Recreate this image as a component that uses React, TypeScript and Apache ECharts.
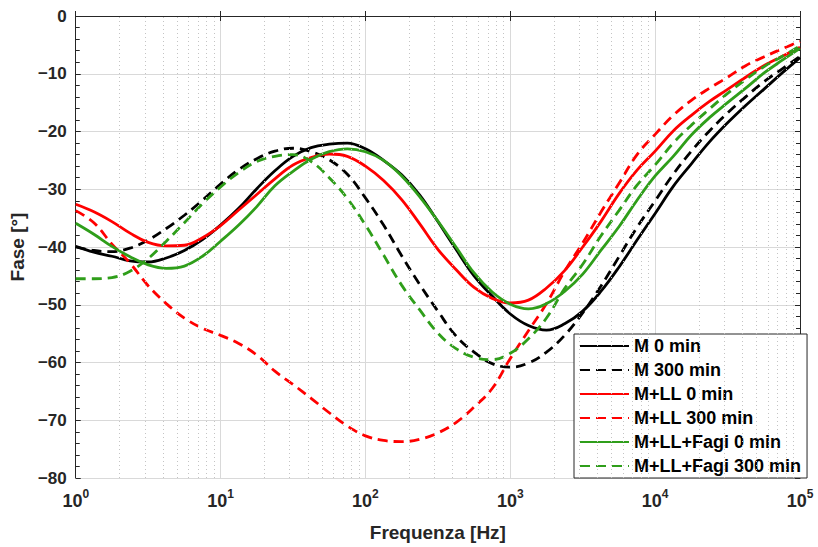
import React, { useEffect, useRef } from 'react';
import * as echarts from 'echarts';

// Frequencies (Hz), 8 points per decade
const freqs = [
  1, 1.334, 1.778, 2.371, 3.162, 4.217, 5.623, 7.499,
  10, 13.34, 17.78, 23.71, 31.62, 42.17, 56.23, 74.99,
  100, 133.4, 177.8, 237.1, 316.2, 421.7, 562.3, 749.9,
  1000, 1334, 1778, 2371, 3162, 4217, 5623, 7499,
  10000, 13335, 17783, 23714, 31623, 42170, 56234, 74989, 100000,
];

// Phase values (degrees)
const mZero = [
  -39.9, -40.9, -41.6, -42.4, -42.6, -41.9, -40.6, -38.7,
  -36.2, -33.3, -29.9, -26.8, -24.3, -22.8, -22.2, -22.0,
  -23.0, -25.0, -27.5, -31.0, -35.6, -40.4, -45.0, -48.5,
  -51.6, -53.6, -54.4, -53.3, -51.1, -47.7, -43.5, -38.8,
  -34.2, -29.5, -25.6, -21.8, -18.5, -15.5, -12.7, -9.9, -7.2,
];
const mThree = [
  -40.0, -40.6, -40.8, -40.2, -38.8, -36.8, -34.5, -31.9,
  -29.1, -26.6, -24.7, -23.4, -22.9, -23.5, -24.9, -27.4,
  -31.5, -36.2, -41.5, -46.5, -51.1, -55.4, -58.2, -60.2,
  -60.8, -60.1, -58.2, -55.3, -51.4, -46.8, -41.7, -36.6,
  -32.0, -27.4, -23.4, -19.9, -16.8, -14.0, -11.4, -9.2, -7.0,
];
const llZero = [
  -32.6, -33.9, -35.6, -37.6, -39.2, -39.8, -39.7, -38.4,
  -36.3, -33.6, -30.9, -28.2, -25.8, -24.5, -23.9, -24.3,
  -26.0, -28.5, -31.8, -36.0, -40.4, -43.9, -47.0, -48.9,
  -49.7, -49.2, -47.1, -44.1, -40.0, -35.6, -30.8, -26.7,
  -23.4, -19.9, -17.2, -14.8, -12.7, -10.6, -8.6, -7.0, -5.4,
];
const llThree = [
  -33.7, -35.8, -39.5, -42.8, -46.7, -49.8, -52.3, -54.1,
  -55.3, -56.7, -58.7, -61.5, -63.8, -66.2, -68.7, -71.0,
  -72.7, -73.5, -73.7, -73.3, -72.2, -70.4, -67.7, -64.5,
  -59.3, -54.5, -49.8, -44.2, -39.3, -34.0, -29.0, -24.0,
  -20.5, -17.2, -14.6, -12.5, -10.6, -8.6, -7.1, -5.7, -4.4,
];
const fZero = [
  -35.9, -37.8, -39.9, -41.7, -43.1, -43.7, -43.3, -41.6,
  -39.0, -36.2, -33.0, -29.4, -26.9, -24.8, -23.5, -23.0,
  -23.5, -25.0, -27.7, -31.3, -35.5, -40.0, -44.5, -47.8,
  -49.9, -50.7, -49.8, -47.7, -44.7, -40.6, -36.5, -31.9,
  -27.7, -24.3, -20.6, -17.6, -15.0, -12.5, -9.9, -7.7, -5.6,
];
const fThree = [
  -45.5, -45.5, -45.3, -44.2, -42.0, -39.0, -35.8, -32.5,
  -29.6, -27.1, -25.2, -24.3, -24.0, -25.2, -28.0, -31.6,
  -36.2, -41.4, -46.6, -50.9, -54.9, -57.6, -59.1, -59.5,
  -58.4, -55.9, -52.3, -47.2, -43.0, -38.1, -33.7, -29.3,
  -25.8, -22.0, -18.9, -16.1, -13.4, -11.0, -8.8, -7.0, -5.2,
];

const seriesNames = [
  'M 0 min', 'M 300 min', 'M+LL 0 min', 'M+LL 300 min', 'M+LL+Fagi 0 min', 'M+LL+Fagi 300 min',
];
const seriesValues = [mZero, mThree, llZero, llThree, fZero, fThree];
const seriesColors = ['#000000', '#000000', '#ff0000', '#ff0000', '#2f9e1a', '#2f9e1a'];
const seriesDashed = [false, true, false, true, false, true];

const minorGridFreqs = [
  2, 3, 4, 5, 6, 7, 8, 9,
  20, 30, 40, 50, 60, 70, 80, 90,
  200, 300, 400, 500, 600, 700, 800, 900,
  2000, 3000, 4000, 5000, 6000, 7000, 8000, 9000,
  20000, 30000, 40000, 50000, 60000, 70000, 80000, 90000,
];

const FONT = '"Liberation Sans", Arial, Helvetica, sans-serif';
const AX = '#262626';

export default function App() {
  const ref = useRef<HTMLDivElement>(null);
  useEffect(() => {
    if (!ref.current) return;
    const chart = echarts.init(ref.current, undefined, { renderer: 'svg' });
    const lineSeries = seriesNames.map((name, k) => ({
      name,
      type: 'line',
      data: freqs.map((f, i) => [f, seriesValues[k][i]]),
      symbol: 'none',
      smooth: 0.4,
      z: 3,
      lineStyle: {
        color: seriesColors[k],
        width: 2.8,
        type: seriesDashed[k] ? [10, 6] : 'solid',
      },
      itemStyle: { color: seriesColors[k] },
    }));
    const option: any = {
      animation: false,
      backgroundColor: '#ffffff',
      grid: { left: 73, right: 18, top: 16, bottom: 66, containLabel: false },
      legend: {
        data: seriesNames,
        orient: 'vertical',
        left: 574,
        top: 334,
        itemWidth: 49,
        itemHeight: 18,
        itemGap: 6,
        padding: [3, 6, 3, 5],
        backgroundColor: '#ffffff',
        borderColor: AX,
        borderWidth: 1,
        borderRadius: 0,
        itemStyle: { opacity: 0 },
        textStyle: { fontSize: 18, fontWeight: 'bold', color: '#000', fontFamily: FONT, lineHeight: 18 },
      },
      xAxis: [
        {
          type: 'log',
          logBase: 10,
          min: 1,
          max: 100000,
          position: 'bottom',
          axisLine: { show: true, lineStyle: { color: AX, width: 1 } },
          axisTick: { show: true, inside: true, length: 5, lineStyle: { color: AX } },
          axisLabel: {
            margin: 10,
            formatter: (v: number) => `{b|10}{s|${Math.round(Math.log10(v))}}`,
            rich: {
              b: { fontSize: 18, fontWeight: 'bold', color: AX, fontFamily: FONT, lineHeight: 26 },
              s: { fontSize: 12, fontWeight: 'bold', color: AX, fontFamily: FONT, lineHeight: 14, verticalAlign: 'top' },
            },
          },
          splitLine: { show: true, lineStyle: { color: '#d9d9d9', width: 1 } },
          name: 'Frequenza [Hz]',
          nameLocation: 'middle',
          nameGap: 45,
          nameTextStyle: { fontSize: 19, fontWeight: 'bold', color: AX, fontFamily: FONT },
        },
        {
          type: 'log',
          logBase: 10,
          min: 1,
          max: 100000,
          position: 'top',
          axisLine: { show: true, lineStyle: { color: AX, width: 1 } },
          axisTick: { show: true, inside: true, length: 5, lineStyle: { color: AX } },
          axisLabel: { show: false },
          splitLine: { show: false },
        },
      ],
      yAxis: [
        {
          type: 'value',
          min: -80,
          max: 0,
          interval: 10,
          position: 'left',
          axisLine: { show: true, lineStyle: { color: AX, width: 1 } },
          axisTick: { show: true, inside: true, length: 5, lineStyle: { color: AX } },
          minorTick: { show: true, splitNumber: 5, length: 4, lineStyle: { color: AX } },
          axisLabel: {
            margin: 9,
            fontSize: 17,
            fontWeight: 'bold',
            color: AX,
            fontFamily: FONT,
            formatter: (v: number) => String(v).replace('-', '\u2212'),
          },
          splitLine: { show: true, lineStyle: { color: '#d9d9d9', width: 1 } },
          name: 'Fase [°]',
          nameLocation: 'middle',
          nameRotate: 90,
          nameGap: 40,
          nameTextStyle: { fontSize: 19, fontWeight: 'bold', color: AX, fontFamily: FONT },
        },
        {
          type: 'value',
          min: -80,
          max: 0,
          interval: 10,
          position: 'right',
          axisLine: { show: true, lineStyle: { color: AX, width: 1 } },
          axisTick: { show: true, inside: true, length: 5, lineStyle: { color: AX } },
          minorTick: { show: true, splitNumber: 5, length: 4, lineStyle: { color: AX } },
          axisLabel: { show: false },
          splitLine: { show: false },
        },
      ],
      series: [
        {
          name: 'minorGrid',
          type: 'line',
          data: [],
          z: 1,
          markLine: {
            silent: true,
            symbol: ['none', 'none'],
            label: { show: false },
            lineStyle: { color: '#c4c4c4', width: 1, type: [1, 3] },
            data: minorGridFreqs.map((f) => ({ xAxis: f })),
          },
        },
        ...lineSeries,
      ],
    };
    chart.setOption(option);
    return () => chart.dispose();
  }, []);
  return (
    <div
      ref={ref}
      style={{ position: 'fixed', left: 0, top: 0, width: 818, height: 547, background: '#fff' }}
    />
  );
}
